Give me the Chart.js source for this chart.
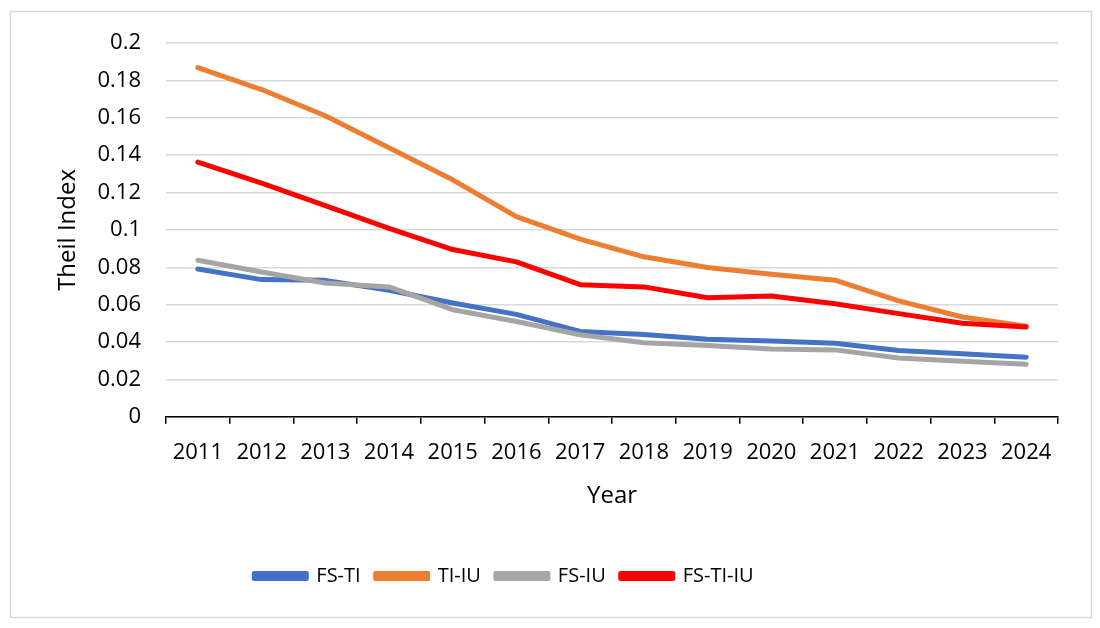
<!DOCTYPE html>
<html>
<head>
<meta charset="utf-8">
<script src="https://cdn.jsdelivr.net/npm/chart.js@4/dist/chart.umd.min.js"></script>
<style>
  html, body { margin: 0; padding: 0; background: #fff; }
  #wrap { width: 1100px; height: 628px; position: relative; }
</style>
</head>
<body>
<div id="wrap"><canvas id="theil" width="1100" height="628"></canvas></div>
<script>
const years = ['2011', '2012', '2013', '2014', '2015', '2016', '2017', '2018', '2019', '2020', '2021', '2022', '2023', '2024'];
const fsTi = [0.0791, 0.0734, 0.0730, 0.0677, 0.0609, 0.0548, 0.0457, 0.0440, 0.0415, 0.0405, 0.0394, 0.0355, 0.0337, 0.0319];
const tiIu = [0.1868, 0.1751, 0.1611, 0.1440, 0.1268, 0.1071, 0.0951, 0.0856, 0.0799, 0.0763, 0.0731, 0.0620, 0.0534, 0.0485];
const fsIu = [0.0838, 0.0775, 0.0716, 0.0695, 0.0573, 0.0510, 0.0439, 0.0396, 0.0381, 0.0363, 0.0358, 0.0315, 0.0297, 0.0281];
const fsTiIu = [0.1363, 0.1250, 0.1130, 0.1008, 0.0895, 0.0829, 0.0707, 0.0695, 0.0637, 0.0646, 0.0605, 0.0552, 0.0501, 0.0480];

const fontName = "'Open Sans', 'Noto Sans', sans-serif";

function makeLine(label, data, color, order) {
  return {
    label: label,
    data: data,
    borderColor: color,
    backgroundColor: color,
    borderWidth: 5,
    borderCapStyle: 'round',
    borderJoinStyle: 'round',
    pointRadius: 0,
    pointHoverRadius: 0,
    tension: 0,
    fill: false,
    order: order
  };
}

// light frame around the whole chart
const framePlugin = {
  id: 'framePlugin',
  beforeDraw(chart) {
    const ctx = chart.ctx;
    ctx.save();
    ctx.fillStyle = '#ffffff';
    ctx.fillRect(0, 0, chart.width, chart.height);
    ctx.strokeStyle = '#d9d9d9';
    ctx.lineWidth = 1.5;
    ctx.strokeRect(10.5, 11.5, 1081, 606);
    ctx.restore();
  }
};

// the legend sits a bit left of centre in the original
const legendShift = {
  id: 'legendShift',
  afterLayout(chart) {
    if (chart.legend) {
      chart.legend.left -= 52;
      chart.legend.right -= 52;
    }
  }
};

new Chart(document.getElementById('theil'), {
  type: 'line',
  data: {
    labels: years,
    datasets: [
      makeLine('FS-TI', fsTi, '#4472C4', 4),
      makeLine('TI-IU', tiIu, '#ED7D31', 3),
      makeLine('FS-IU', fsIu, '#A5A5A5', 2),
      makeLine('FS-TI-IU', fsTiIu, '#FF0000', 1)
    ]
  },
  options: {
    responsive: false,
    animation: false,
    layout: { padding: { top: 43, right: 42, bottom: 32, left: 54 } },
    plugins: {
      tooltip: { enabled: false },
      legend: {
        position: 'bottom',
        labels: {
          boxWidth: 52,
          boxHeight: 5,
          padding: 15,
          color: '#000',
          font: { family: fontName, size: 20 },
          sort: (a, b) => a.datasetIndex - b.datasetIndex
        }
      }
    },
    scales: {
      x: {
        offset: true,
        grid: {
          offset: true,
          drawOnChartArea: false,
          drawTicks: true,
          tickLength: 7,
          color: '#000',
          lineWidth: 1.5
        },
        border: { display: true, color: '#000', width: 1.5 },
        ticks: { color: '#000', padding: 16, font: { family: fontName, size: 22 } },
        title: {
          display: true,
          text: 'Year',
          color: '#000',
          padding: { top: 0, bottom: 40 },
          font: { family: fontName, size: 24 }
        }
      },
      y: {
        min: 0,
        max: 0.2,
        afterFit: (scale) => { scale.width = 112; },
        ticks: {
          stepSize: 0.02,
          color: '#000',
          padding: 25,
          font: { family: fontName, size: 22 },
          callback: (v) => String(Math.round(v * 100) / 100)
        },
        grid: { color: '#d9d9d9', lineWidth: 1.5, drawTicks: false },
        border: { display: false },
        title: {
          display: true,
          text: 'Theil Index',
          color: '#000',
          padding: { top: 0, bottom: 0 },
          font: { family: fontName, size: 24 }
        }
      }
    }
  },
  plugins: [framePlugin, legendShift]
});
</script>
</body>
</html>
